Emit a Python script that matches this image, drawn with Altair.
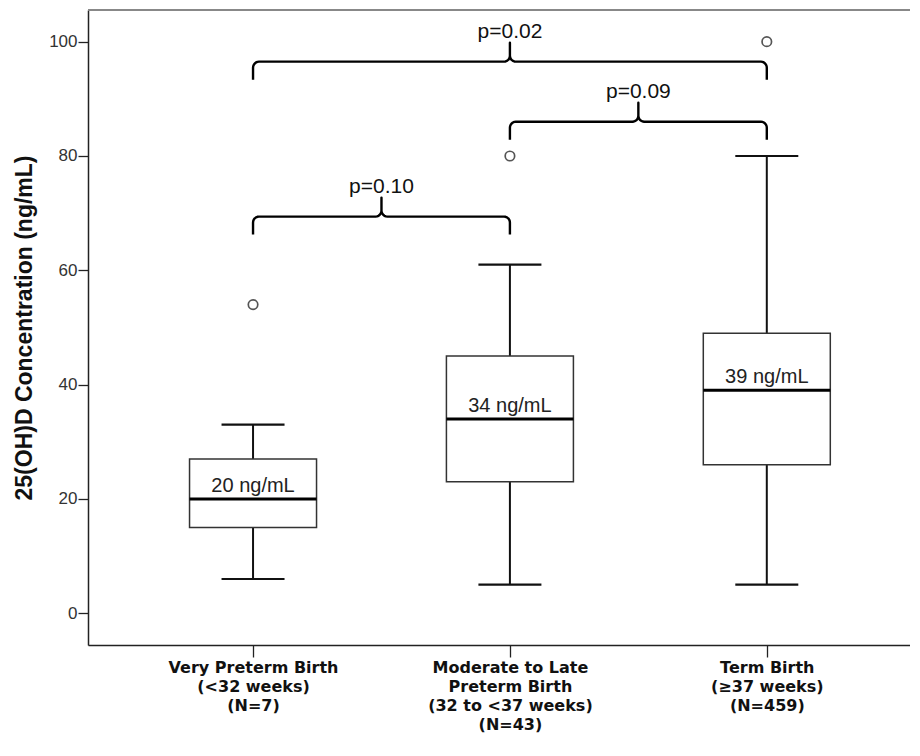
import math
import json
import altair as alt
import pandas as pd

# ---- data ----
categories = [
    "Very Preterm Birth\n(<32 weeks)\n(N=7)",
    "Moderate to Late\nPreterm Birth\n(32 to <37 weeks)\n(N=43)",
    "Term Birth\n(\u226537 weeks)\n(N=459)",
]
positions = [1, 2, 3]
whisker_low = [6, 5, 5]
q1 = [15, 23, 26]
median = [20, 34, 39]
q3 = [27, 45, 49]
whisker_high = [33, 61, 80]
median_labels = ["20 ng/mL", "34 ng/mL", "39 ng/mL"]

outlier_pos = [1, 2, 3]
outlier_val = [54, 80, 100]

brace_from = [1, 2, 1]
brace_to = [2, 3, 3]
brace_level = [69.4, 86.0, 96.5]
p_labels = ["p=0.10", "p=0.09", "p=0.02"]

# ---- layout constants ----
W, H = 822, 635
XDOM = [0.377, 3.538]
YDOM = [-5.55, 105.54]
px_per_x = W / (XDOM[1] - XDOM[0])
px_per_y = H / (YDOM[1] - YDOM[0])
FONT = "Liberation Sans, Arial, sans-serif"
XFONT = "DejaVu Sans, Liberation Sans, sans-serif"

boxes = pd.DataFrame({
    "pos": positions, "lo": whisker_low, "q1": q1, "med": median,
    "q3": q3, "hi": whisker_high, "lab": median_labels,
})
outliers = pd.DataFrame({"pos": outlier_pos, "val": outlier_val})

# brace outline (decorative geometry built from brace spans/levels)
drop = 18 / px_per_y
peak = 19 / px_per_y
rx = 6 / px_per_x
ry = 6 / px_per_y
rows = []
plab = []
for k, (a, b, L, lab) in enumerate(zip(brace_from, brace_to, brace_level, p_labels)):
    c = (a + b) / 2
    pts = [(a, L - drop)]
    for j in range(7):
        t = math.pi - j * (math.pi / 2) / 6
        pts.append((a + rx + rx * math.cos(t), L - ry + ry * math.sin(t)))
    for j in range(7):
        t = -math.pi / 2 + j * (math.pi / 2) / 6
        pts.append((c - rx + rx * math.cos(t), L + ry + ry * math.sin(t)))
    pts.append((c, L + peak))
    for j in range(7):
        t = math.pi + j * (math.pi / 2) / 6
        pts.append((c + rx + rx * math.cos(t), L + ry + ry * math.sin(t)))
    for j in range(7):
        t = math.pi / 2 - j * (math.pi / 2) / 6
        pts.append((b - rx + rx * math.cos(t), L - ry + ry * math.sin(t)))
    pts.append((b, L - drop))
    for i, (x, y) in enumerate(pts):
        rows.append({"brace": k, "i": i, "x": x, "y": y})
    plab.append({"x": c, "y": L + peak, "lab": lab})
braces = pd.DataFrame(rows)
plabels = pd.DataFrame(plab)

# x-axis label expression built from category list
expr = "''"
for p, c in reversed(list(zip(positions, categories))):
    expr = f"datum.value == {p} ? {json.dumps(c.split(chr(10)))} : ({expr})"

xscale = alt.Scale(domain=XDOM, nice=False, zero=False)
yscale = alt.Scale(domain=YDOM, nice=False, zero=False)
xaxis = alt.Axis(values=positions, labelExpr=expr, grid=False, tickSize=12,
                 tickColor="#222", domainColor="#222", tickWidth=1.3, domainWidth=1.3,
                 labelFont=XFONT, labelFontWeight="bold", labelFontSize=16,
                 labelColor="#111", labelLineHeight=19, labelPadding=2,
                 labelBaseline="top", labelAngle=0, labelLimit=0)
yaxis = alt.Axis(values=[0, 20, 40, 60, 80, 100], grid=False, tickSize=10,
                 tickColor="#222", domainColor="#222", tickWidth=1.3, domainWidth=1.5,
                 labelFont=FONT, labelFontSize=17, labelColor="#333", labelPadding=1,
                 title="25(OH)D Concentration (ng/mL)", titleFont=FONT,
                 titleFontSize=23, titleFontWeight="bold", titleColor="#111",
                 titlePadding=12)


def X(field="pos"):
    return alt.X(f"{field}:Q", scale=xscale, axis=xaxis, title=None)


def Y(field):
    return alt.Y(f"{field}:Q", scale=yscale, axis=yaxis)


base = alt.Chart(boxes)

whisk = base.mark_rule(color="#111", strokeWidth=2).encode(
    x=X(), y=Y("lo"), y2="hi:Q")
caps_lo = base.mark_tick(orient="horizontal", size=63, thickness=2.2, color="#111",
                         opacity=1).encode(x=X(), y=Y("lo"))
caps_hi = base.mark_tick(orient="horizontal", size=63, thickness=2.2, color="#111",
                         opacity=1).encode(x=X(), y=Y("hi"))
box = base.mark_bar(size=127, fill="white", stroke="#333", strokeWidth=1.5,
                    opacity=1).encode(x=X(), y=Y("q1"), y2="q3:Q")
med = base.mark_tick(orient="horizontal", size=127, thickness=3, color="#000",
                     opacity=1).encode(x=X(), y=Y("med"))
medtxt = base.mark_text(font=FONT, fontSize=20, color="#222", baseline="alphabetic",
                        dy=-7).encode(x=X(), y=Y("med"), text="lab:N")

outl = alt.Chart(outliers).mark_point(shape="circle", size=90, filled=False,
                                      color="#555", strokeWidth=1.7, opacity=1).encode(
    x=X(), y=Y("val"))

brace_lines = alt.Chart(braces).mark_line(color="#000", strokeWidth=2.4,
                                          strokeJoin="round").encode(
    x=X("x"), y=Y("y"), detail="brace:N", order="i:Q")
ptxt = alt.Chart(plabels).mark_text(font=FONT, fontSize=21, color="#111",
                                    baseline="alphabetic", dy=-5).encode(
    x=X("x"), y=Y("y"), text="lab:N")

topline = alt.Chart(boxes).mark_rule(color="#888", strokeWidth=2).encode(
    x=alt.value(0), x2=alt.value(W), y=alt.value(0))

chart = alt.layer(
    topline, whisk, caps_lo, caps_hi, box, med, medtxt, outl, brace_lines, ptxt
).properties(
    width=W, height=H,
    autosize=alt.AutoSizeParams(type="none"),
    padding={"left": 80, "top": 2, "right": 0, "bottom": 100},
).configure_view(stroke=None).configure(background="white")

chart.save("out.html", embed_options={"renderer": "svg", "actions": False})
